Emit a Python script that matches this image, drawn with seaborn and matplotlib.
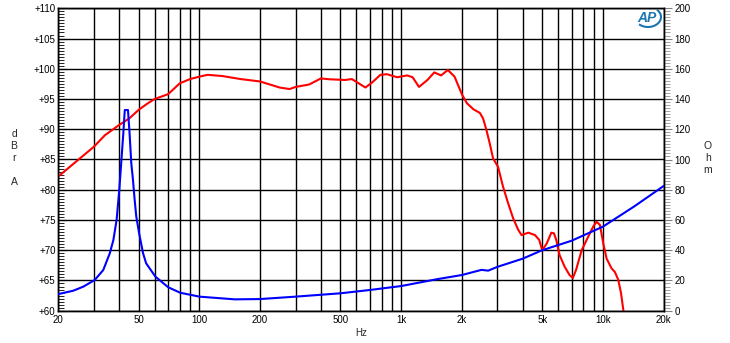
import numpy as np
import pandas as pd
import matplotlib
matplotlib.use("Agg")
import matplotlib.pyplot as plt
import seaborn as sns
from matplotlib.patches import Arc
from matplotlib.ticker import FixedLocator, NullFormatter, MultipleLocator, FixedFormatter

# ---- data ----
spl_freq = [20, 25, 30, 34, 40, 45, 50, 55, 60, 70,
            80, 90, 100, 110, 130, 160, 200, 250, 280, 300,
            350, 400, 444, 527, 570, 616, 665, 716, 789, 851,
            955, 1072, 1140, 1226, 1350, 1459, 1577, 1704, 1839, 2005,
            2118, 2282, 2455, 2546, 2645, 2746, 2853, 3020, 3198, 3387,
            3587, 3800, 3950, 4267, 4606, 4834, 5000, 5262, 5550, 5717,
            5870, 6095, 6454, 6831, 7093, 7367, 7843, 8442, 8944, 9294,
            9656, 10040, 10430, 11030, 11460, 11910, 12290, 12630]
spl_db = [82.2, 84.9, 87.1, 89.0, 90.7, 91.8, 93.2, 94.2, 95.0, 95.8,
          97.6, 98.3, 98.7, 99.0, 98.8, 98.3, 97.9, 96.9, 96.65, 97.0,
          97.4, 98.4, 98.26, 98.15, 98.3, 97.6, 96.9, 97.7, 99.0, 99.1,
          98.6, 98.9, 98.6, 97.0, 98.15, 99.4, 98.9, 99.8, 98.7, 95.7,
          94.3, 93.3, 92.7, 91.8, 89.9, 87.7, 85.2, 83.8, 80.5, 77.8,
          75.3, 73.4, 72.5, 72.9, 72.5, 71.7, 70.0, 71.1, 72.9, 72.8,
          71.7, 69.2, 67.3, 65.9, 65.4, 66.8, 70.0, 72.2, 73.9, 74.7,
          74.2, 71.1, 68.6, 67.0, 66.4, 65.1, 62.9, 60.0]

imp_freq = [20, 23.7, 26.6, 30.3, 33.4, 36.0, 37.5, 38.9, 40.1, 41.1,
            42.0, 42.7, 44.3, 45.1, 46.0, 46.9, 47.8, 48.7, 50.3, 52.6,
            54.5, 60.6, 70.1, 80.3, 100, 150, 200, 300, 500, 700,
            1000, 1500, 2000, 2500, 2700, 3000, 4000, 5000, 7000, 10000,
            14300, 20000]
imp_ohm = [11.0, 13.2, 15.9, 20.3, 26.9, 38.0, 46.8, 60.0, 79.8, 99.7,
           117.3, 132.7, 132.7, 117.3, 97.5, 86.4, 73.2, 62.2, 51.2, 38.0,
           31.3, 22.5, 15.5, 11.9, 9.3, 7.5, 7.7, 9.3, 11.5, 13.7,
           16.3, 20.8, 23.6, 27, 26.5, 29, 34.4, 40, 46.3, 55.6,
           69, 82.5]

x_tick_vals = [20, 50, 100, 200, 500, 1000, 2000, 5000, 10000, 20000]
x_tick_labels = ["20", "50", "100", "200", "500", "1k", "2k", "5k", "10k", "20k"]
x_grid_vals = [30, 40, 60, 70, 80, 90, 300, 400, 600, 700, 800, 900,
               3000, 4000, 6000, 7000, 8000, 9000]
db_ticks = list(range(60, 111, 5))
db_labels = ["+%d" % v for v in db_ticks]
ohm_ticks = list(range(0, 201, 20))

spl = pd.DataFrame({"Hz": spl_freq, "dBrA": spl_db})
imp = pd.DataFrame({"Hz": imp_freq, "Ohm": imp_ohm})

sns.set_theme(style="white")
plt.rcParams["font.family"] = ["Liberation Sans", "DejaVu Sans"]
FS = 7

fig = plt.figure(figsize=(7.3, 3.43), dpi=100)
ax = fig.add_axes([58.3 / 730, 1 - 310.7 / 343, (663.7 - 58.3) / 730, (310.7 - 8.3) / 343])
ax.set_xscale("log")

sns.lineplot(data=spl, x="Hz", y="dBrA", ax=ax, color="#ff0000", lw=1.5,
             estimator=None, sort=False, zorder=3)
ax.set_xlabel("")
ax.set_ylabel("")

ax2 = ax.twinx()
sns.lineplot(data=imp, x="Hz", y="Ohm", ax=ax2, color="#0000ff", lw=1.5,
             estimator=None, sort=False, zorder=3)
ax2.set_xlabel("")
ax2.set_ylabel("")

ax.set_xlim(20, 20000)
ax.set_ylim(60, 110)
ax2.set_ylim(0, 200)

ax.xaxis.set_major_locator(FixedLocator(x_tick_vals))
ax.xaxis.set_major_formatter(FixedFormatter(x_tick_labels))
ax.xaxis.set_minor_locator(FixedLocator(x_grid_vals))
ax.xaxis.set_minor_formatter(NullFormatter())
ax.yaxis.set_major_locator(FixedLocator(db_ticks))
ax.yaxis.set_major_formatter(FixedFormatter(db_labels))
ax.yaxis.set_minor_locator(MultipleLocator(0.5))

ax.grid(True, which="major", color="black", lw=1.0)
ax.grid(True, which="minor", axis="x", color="black", lw=1.0)
ax.set_axisbelow(True)

ax.tick_params(axis="x", which="both", length=0, pad=3, labelsize=FS, colors="black")
ax.tick_params(axis="y", which="major", direction="in", length=6, width=0.8,
               pad=2, labelsize=FS, colors="black")
ax.tick_params(axis="y", which="minor", direction="in", length=4, width=0.6, color="black")

ax2.yaxis.set_major_locator(FixedLocator(ohm_ticks))
ax2.yaxis.set_minor_locator(MultipleLocator(2))
ax2.tick_params(axis="y", which="major", direction="out", length=6, width=0.8,
                color="#808080", pad=2, labelsize=FS, labelcolor="black")
ax2.tick_params(axis="y", which="minor", direction="out", length=4, width=0.6,
                color="#909090")
ax2.grid(False)

for a in (ax, ax2):
    for s in a.spines.values():
        s.set_color("black")
        s.set_linewidth(1.0)

fig.text(14 / 730, 1 - 158 / 343, "d\nB\nr\n\nA", ha="center", va="center",
         fontsize=FS + 0.5, linespacing=1.25)
fig.text(708 / 730, 1 - 158 / 343, "O\nh\nm", ha="center", va="center",
         fontsize=FS + 0.5, linespacing=1.25)
fig.text(361 / 730, 1 - 333 / 343, "Hz", ha="center", va="center", fontsize=FS)

# AP logo approximation
fig.text(647 / 730, 1 - 18 / 343, "AP", ha="center", va="center",
         fontsize=10, fontweight="bold", fontstyle="italic", color="#1b75b3")
logo_arc = Arc((648 / 730, 1 - 17 / 343), 26 / 730, 20 / 343, theta1=-120, theta2=60,
               transform=fig.transFigure, color="#1b75b3", lw=1.5)
fig.add_artist(logo_arc)

fig.savefig("out.png", dpi=100, facecolor="white")
